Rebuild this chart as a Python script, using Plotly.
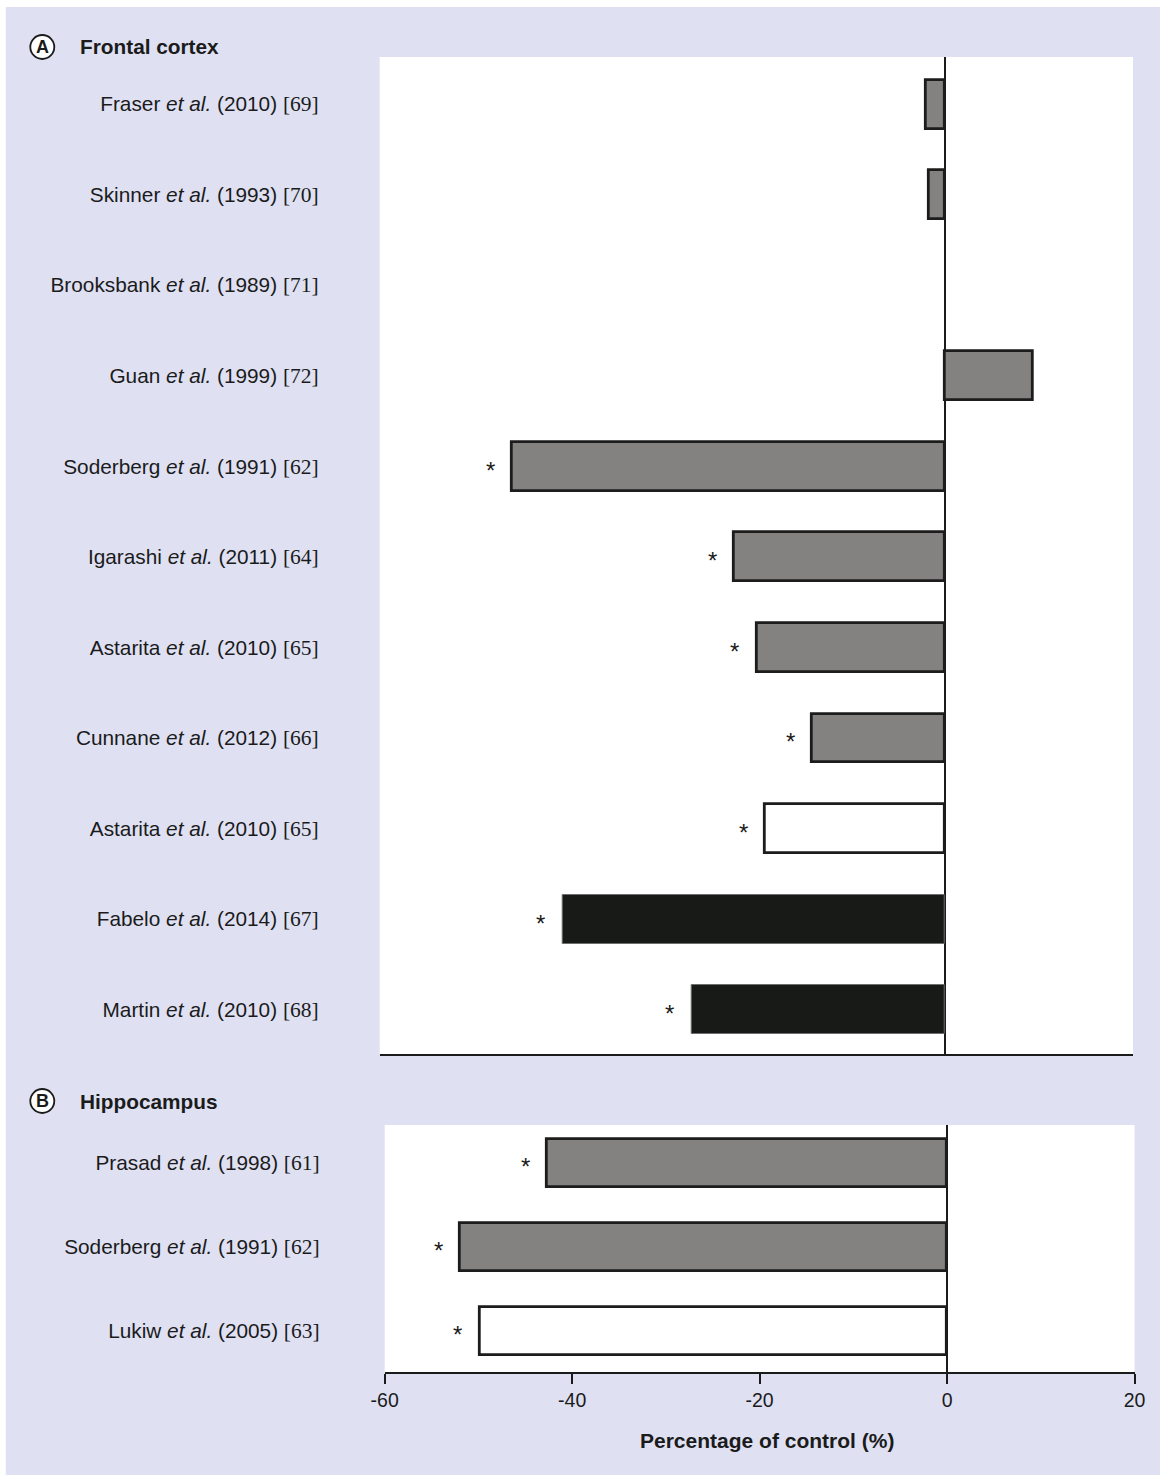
import plotly.graph_objects as go

# ---- data -----------------------------------------------------------------
frontal_authors = ["Fraser", "Skinner", "Brooksbank", "Guan", "Soderberg", "Igarashi",
                   "Astarita", "Cunnane", "Astarita", "Fabelo", "Martin"]
frontal_years = [2010, 1993, 1989, 1999, 1991, 2011, 2010, 2012, 2010, 2014, 2010]
frontal_refs = [69, 70, 71, 72, 62, 64, 65, 66, 65, 67, 68]
frontal_values = [-2.0, -1.7, 0.0, 9.3, -46.0, -22.4, -20.0, -14.1, -19.1, -40.6, -26.9]
frontal_significant = [False, False, False, False, True, True, True, True, True, True, True]
frontal_group = ["grey", "grey", "grey", "grey", "grey", "grey", "grey", "grey",
                 "white", "black", "black"]

hippo_authors = ["Prasad", "Soderberg", "Lukiw"]
hippo_years = [1998, 1991, 2005]
hippo_refs = [61, 62, 63]
hippo_values = [-42.7, -52.0, -49.9]
hippo_significant = [True, True, True]
hippo_group = ["grey", "grey", "white"]

x_ticks = [-60, -40, -20, 0, 20]

# ---- page geometry ----------------------------------------------------------
W, H = 1160, 1475
X_INSET, X_SPAN = 14.2, 1135.3   # horizontal placement of the drawing on the page
BG = "#dfe1f3"
INK = "#1b1b1b"


def fx(p):
    return (p - X_INSET) / X_SPAN


def fy(p):
    return 1 - p / H


fill_for = {"grey": "#838281", "white": "#ffffff", "black": "#181a18"}
line_for = {"grey": "#1c1c1c", "white": "#1c1c1c", "black": "#6f6f6f"}
lw_for = {"grey": 2.8, "white": 2.8, "black": 1.0}


def label(author, year, ref):
    return (f"{author} <i>et al.</i> ({year}) "
            f"<span style='font-family:Liberation Serif, Times New Roman, serif;font-size:21.5px'>[{ref}]</span>")


def bar_trace(values, groups, xa, ya, width):
    pos = list(range(len(values)))
    return go.Bar(
        x=values, y=pos, orientation="h", width=width,
        xaxis=xa, yaxis=ya,
        marker=dict(
            color=[fill_for[g] for g in groups],
            line=dict(color=[line_for[g] for g in groups],
                      width=[lw_for[g] if v != 0 else 0 for g, v in zip(groups, values)]),
        ),
        hoverinfo="skip", showlegend=False,
    )


fig = go.Figure()
fig.add_trace(bar_trace(frontal_values, frontal_group, "x2", "y2", 0.54))
fig.add_trace(bar_trace(hippo_values, hippo_group, "x", "y", 0.57))

label_font = dict(family="Liberation Sans, Arial, sans-serif", size=20.8, color=INK)

fig.update_layout(
    width=W, height=H, autosize=False,
    margin=dict(l=0, r=0, t=0, b=0),
    paper_bgcolor=BG, plot_bgcolor="#ffffff",
    font=dict(family="Liberation Sans, Arial, sans-serif", color=INK),
    bargap=0,
    # hippocampus panel (bottom, carries the tick labels)
    xaxis=dict(domain=[fx(385), fx(1135)], range=[-60, 20], anchor="y",
               tickvals=x_ticks, ticktext=[str(t) for t in x_ticks],
               ticks="outside", ticklen=10, tickwidth=1.5, tickcolor=INK,
               tickfont=dict(size=19.5, color=INK),
               showline=True, linecolor=INK, linewidth=1.5,
               showgrid=False, zeroline=True, zerolinecolor=INK, zerolinewidth=1.5),
    yaxis=dict(domain=[fy(1372), fy(1125)], range=[2.49, -0.45], anchor="x",
               tickvals=list(range(len(hippo_authors))),
               ticktext=[label(a, y, r) for a, y, r in zip(hippo_authors, hippo_years, hippo_refs)],
               ticks="", showline=False, showgrid=False, zeroline=False,
               ticklabelstandoff=64, tickfont=label_font),
    # frontal cortex panel (top)
    xaxis2=dict(domain=[fx(380), fx(1133.5)], range=[-60, 20], anchor="y2",
                showticklabels=False, ticks="",
                showline=True, linecolor=INK, linewidth=1.5,
                showgrid=False, zeroline=True, zerolinecolor=INK, zerolinewidth=1.5),
    yaxis2=dict(domain=[fy(1054), fy(57)], range=[10.49, -0.52], anchor="x2",
                tickvals=list(range(len(frontal_authors))),
                ticktext=[label(a, y, r) for a, y, r in zip(frontal_authors, frontal_years, frontal_refs)],
                ticks="", showline=False, showgrid=False, zeroline=False,
                ticklabelstandoff=60, tickfont=label_font),
)

annotations = []
shapes = []

# significance asterisks just left of each bar end
star_font = dict(size=24, color=INK)
for i, (v, s) in enumerate(zip(frontal_values, frontal_significant)):
    if s:
        annotations.append(dict(x=v, y=i, xref="x2", yref="y2", text="*", showarrow=False,
                                xshift=-21.5, yshift=-4, font=star_font))
for i, (v, s) in enumerate(zip(hippo_values, hippo_significant)):
    if s:
        annotations.append(dict(x=v, y=i, xref="x", yref="y", text="*", showarrow=False,
                                xshift=-21.5, yshift=-4, font=star_font))

# panel headings with circled letters
for letter, title, cy in [("A", "Frontal cortex", 47), ("B", "Hippocampus", 1101)]:
    shapes.append(dict(type="circle", xref="paper", yref="paper",
                       x0=fx(30.5), x1=fx(54.5), y0=fy(cy + 12), y1=fy(cy - 12),
                       line=dict(color=INK, width=1.8), fillcolor="#ffffff"))
    annotations.append(dict(x=fx(42.5), y=fy(cy), xref="paper", yref="paper",
                            text=f"<b>{letter}</b>", showarrow=False,
                            xanchor="center", yanchor="middle",
                            font=dict(size=18, color=INK)))
    annotations.append(dict(x=fx(78), y=fy(cy), xref="paper", yref="paper",
                            text=f"<b>{title}</b>", showarrow=False,
                            xanchor="left", yanchor="middle",
                            font=dict(size=20.8, color=INK)))

# x-axis title
annotations.append(dict(x=fx(767), y=fy(1440), xref="paper", yref="paper",
                        text="<b>Percentage of control (%)</b>", showarrow=False,
                        xanchor="center", yanchor="middle",
                        font=dict(size=21, color=INK)))

# thin white page margin at top and left
shapes.append(dict(type="rect", xref="paper", yref="paper", x0=fx(-20), x1=fx(1180),
                   y0=fy(7), y1=1, line=dict(width=0), fillcolor="#ffffff", layer="above"))
shapes.append(dict(type="rect", xref="paper", yref="paper", x0=fx(-20), x1=fx(6),
                   y0=0, y1=1, line=dict(width=0), fillcolor="#ffffff", layer="above"))

fig.update_layout(annotations=annotations, shapes=shapes)

fig.write_html("out.html", config={"responsive": False})
